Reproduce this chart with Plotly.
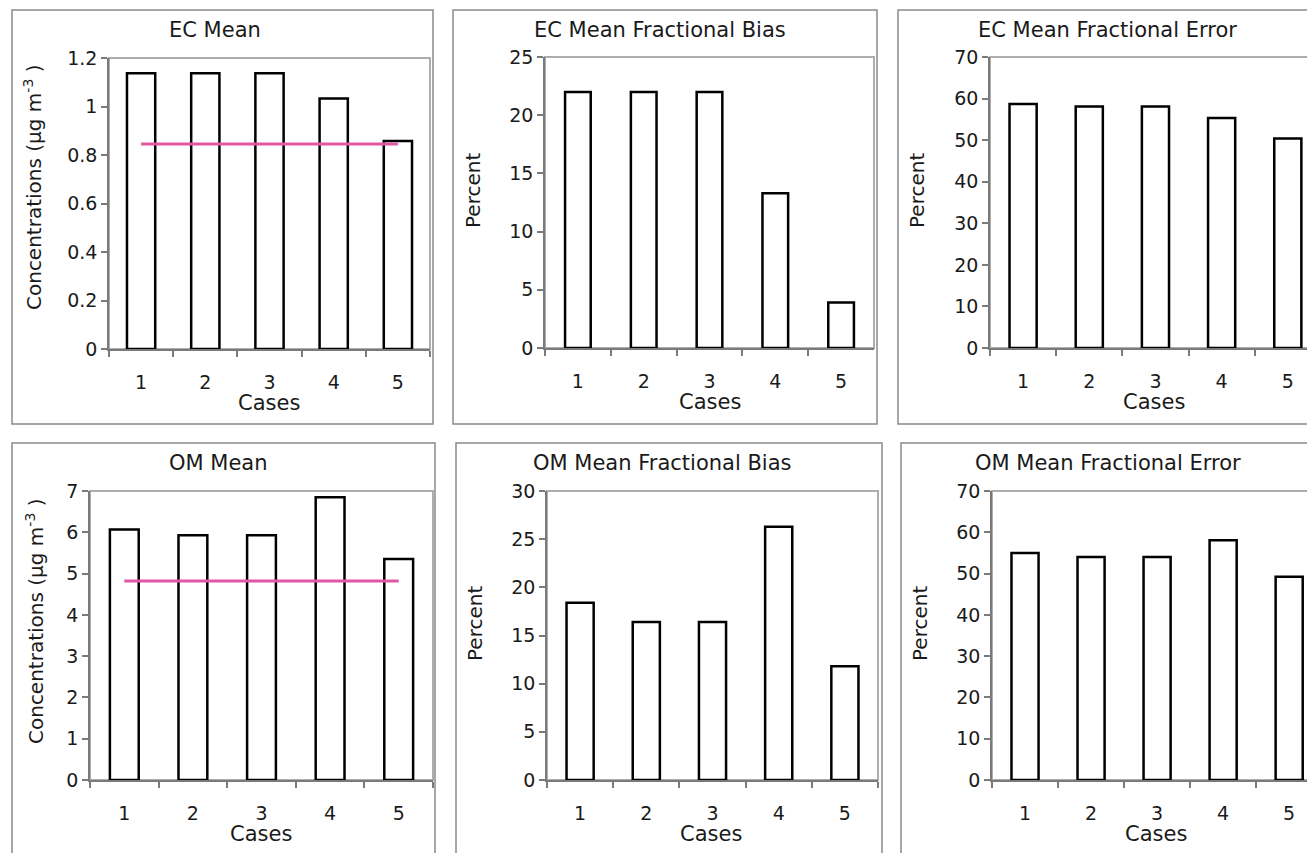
import plotly.graph_objects as go

# ---------------- data ----------------
cases = ["1", "2", "3", "4", "5"]

ec_mean = [1.137, 1.137, 1.137, 1.033, 0.858]
ec_obs = 0.845
ec_mfb = [22.0, 22.0, 22.0, 13.3, 3.9]
ec_mfe = [58.7, 58.1, 58.1, 55.3, 50.4]

om_mean = [6.07, 5.93, 5.93, 6.85, 5.35]
om_obs = 4.82
om_mfb = [18.4, 16.4, 16.4, 26.3, 11.8]
om_mfe = [55.0, 54.0, 54.0, 58.1, 49.2]

panel_titles = ["EC Mean", "EC Mean Fractional Bias", "EC Mean Fractional Error",
                "OM Mean", "OM Mean Fractional Bias", "OM Mean Fractional Error"]
conc_title = "Concentrations (µg m<sup>-3</sup> )"
pct_title = "Percent"
x_title = "Cases"

# ---------------- styling / layout ----------------
W, H = 1307, 853
FONT = "DejaVu Sans"
TXT = "#1a1a1a"
PINK = "#e257a3"
AXC = "#7a7a7a"
BORDER = "#adadad"
BOX = "#8a8a8a"


def px(x):
    return x / W


def py(y):
    return 1 - y / H


specs = [
    dict(vals=ec_mean, obs=ec_obs, title=panel_titles[0], ytitle=conc_title,
         box=(12, 10, 433, 424), plot=(109, 58, 430, 349), xend=4.5,
         yr=[0, 1.2], dt=0.2, bw=0.44, tpos=(215, 30), ypos=(33, 188), cpos=(269, 403)),
    dict(vals=ec_mfb, obs=None, title=panel_titles[1], ytitle=pct_title,
         box=(453, 10, 877, 424), plot=(545, 57, 874, 348), xend=4.5,
         yr=[0, 25], dt=5, bw=0.39, tpos=(660, 30), ypos=(473, 191), cpos=(710, 402)),
    dict(vals=ec_mfe, obs=None, title=panel_titles[2], ytitle=pct_title,
         box=(898, 10, 1340, 424), plot=(990, 57, 1307, 348), xend=4.29,
         yr=[0, 70], dt=10, bw=0.41, tpos=(1107, 30), ypos=(917, 190), cpos=(1154, 402)),
    dict(vals=om_mean, obs=om_obs, title=panel_titles[3], ytitle=conc_title,
         box=(12, 443, 435, 870), plot=(90, 491, 433, 780), xend=4.5,
         yr=[0, 7], dt=1, bw=0.42, tpos=(218, 463), ypos=(35, 622), cpos=(261, 834)),
    dict(vals=om_mfb, obs=None, title=panel_titles[4], ytitle=pct_title,
         box=(456, 443, 882, 870), plot=(547, 491, 878, 780), xend=4.5,
         yr=[0, 30], dt=5, bw=0.41, tpos=(662, 463), ypos=(475, 624), cpos=(711, 834)),
    dict(vals=om_mfe, obs=None, title=panel_titles[5], ytitle=pct_title,
         box=(901, 443, 1340, 870), plot=(992, 491, 1307, 780), xend=4.27,
         yr=[0, 70], dt=10, bw=0.41, tpos=(1108, 463), ypos=(920, 624), cpos=(1156, 834)),
]

fig = go.Figure()
shapes = []
annotations = []
layout_axes = {}

for i, s in enumerate(specs, start=1):
    xa = "x" if i == 1 else f"x{i}"
    ya = "y" if i == 1 else f"y{i}"
    fig.add_trace(go.Bar(
        x=cases, y=s["vals"], xaxis=xa, yaxis=ya, width=s["bw"],
        marker=dict(color="white", line=dict(color="black", width=2.5)),
        showlegend=False, name=s["title"]))
    if s["obs"] is not None:
        fig.add_trace(go.Scatter(
            x=cases, y=[s["obs"]] * len(cases), xaxis=xa, yaxis=ya, mode="lines",
            line=dict(color=PINK, width=3), showlegend=False, name="Observed"))

    l, t, r, b = s["plot"]
    layout_axes["xaxis" if i == 1 else f"xaxis{i}"] = dict(
        domain=[px(l), px(r)], anchor=ya, type="category", range=[-0.5, s["xend"]],
        tickson="boundaries", ticks="outside", ticklen=6, tickwidth=1.5, tickcolor=AXC,
        showline=True, linecolor=AXC, linewidth=1.5, showgrid=False, zeroline=False,
        tickfont=dict(family=FONT, size=19, color=TXT), ticklabelstandoff=15,
        layer="below traces", fixedrange=True, automargin=False)
    layout_axes["yaxis" if i == 1 else f"yaxis{i}"] = dict(
        domain=[py(b), py(t)], anchor=xa, range=s["yr"], dtick=s["dt"], tick0=0,
        ticks="outside", ticklen=6, tickwidth=1.5, tickcolor=AXC,
        showline=True, linecolor=AXC, linewidth=1.5, showgrid=False, zeroline=False,
        tickfont=dict(family=FONT, size=19, color=TXT), layer="below traces",
        fixedrange=True, automargin=False)

    bl, bt, br, bb = s["box"]
    shapes.append(dict(type="rect", xref="paper", yref="paper", x0=px(bl), x1=px(br),
                       y0=py(bb), y1=py(bt), line=dict(color=BOX, width=1.5),
                       fillcolor="rgba(0,0,0,0)", layer="below"))
    right = r if s["xend"] >= 4.5 else r + 40
    shapes.append(dict(type="rect", xref="paper", yref="paper", x0=px(l), x1=px(right),
                       y0=py(b), y1=py(t), line=dict(color=BORDER, width=2),
                       fillcolor="rgba(0,0,0,0)", layer="below"))

    annotations.append(dict(text=s["title"], x=px(s["tpos"][0]), y=py(s["tpos"][1]),
                            xref="paper", yref="paper", showarrow=False,
                            xanchor="center", yanchor="middle",
                            font=dict(family=FONT, size=21, color=TXT)))
    annotations.append(dict(text=s["ytitle"], x=px(s["ypos"][0]), y=py(s["ypos"][1]),
                            xref="paper", yref="paper", showarrow=False, textangle=-90,
                            xanchor="center", yanchor="middle",
                            font=dict(family=FONT, size=20, color=TXT)))
    annotations.append(dict(text=x_title, x=px(s["cpos"][0]), y=py(s["cpos"][1]),
                            xref="paper", yref="paper", showarrow=False,
                            xanchor="center", yanchor="middle",
                            font=dict(family=FONT, size=21, color=TXT)))

fig.update_layout(
    width=W, height=H, margin=dict(l=0, r=0, t=0, b=0, autoexpand=False),
    paper_bgcolor="white", plot_bgcolor="white",
    shapes=shapes, annotations=annotations, showlegend=False,
    **layout_axes)

fig.write_html(
    "out.html",
    config={"displayModeBar": False},
    post_script="document.body.style.margin='0px';document.body.style.overflow='hidden';",
)
